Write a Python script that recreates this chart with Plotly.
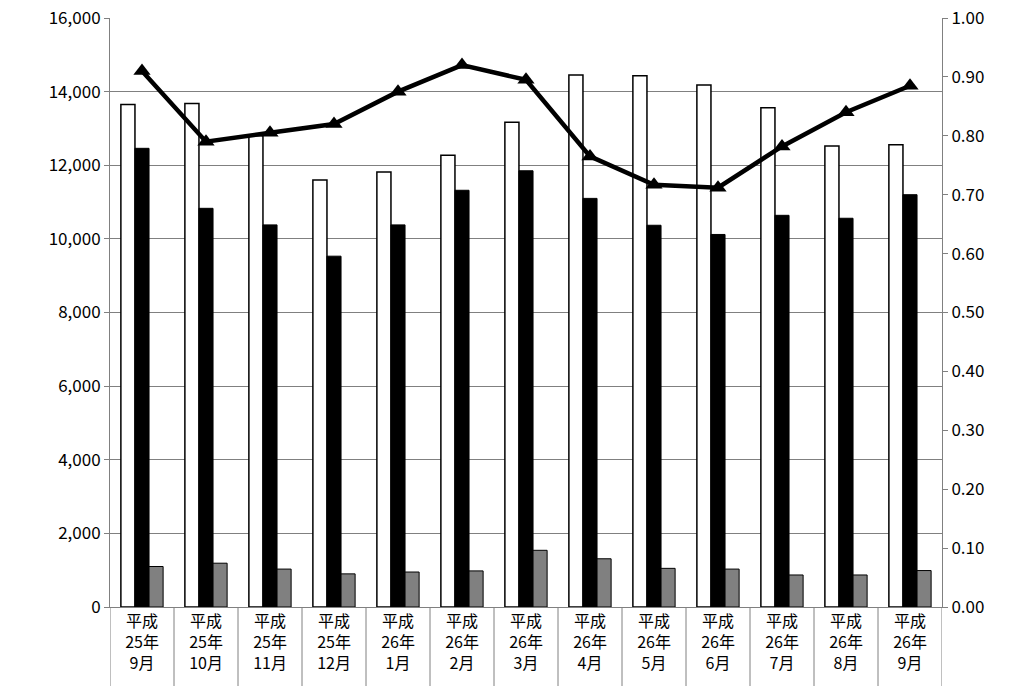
import plotly.graph_objects as go

categories = ["平成<br>25年<br>9月", "平成<br>25年<br>10月", "平成<br>25年<br>11月", "平成<br>25年<br>12月",
              "平成<br>26年<br>1月", "平成<br>26年<br>2月", "平成<br>26年<br>3月", "平成<br>26年<br>4月",
              "平成<br>26年<br>5月", "平成<br>26年<br>6月", "平成<br>26年<br>7月", "平成<br>26年<br>8月",
              "平成<br>26年<br>9月"]
white_vals = [13650, 13680, 12800, 11600, 11820, 12270, 13170, 14450, 14430, 14180, 13560, 12520, 12560]
black_vals = [12460, 10830, 10380, 9530, 10380, 11320, 11850, 11100, 10370, 10120, 10640, 10560, 11200]
gray_vals = [1100, 1190, 1030, 900, 950, 980, 1540, 1310, 1050, 1030, 870, 870, 990]
ratio_vals = [0.91, 0.79, 0.805, 0.82, 0.875, 0.92, 0.895, 0.765, 0.717, 0.712, 0.782, 0.84, 0.885]

x = list(range(len(categories)))
fig = go.Figure()
fig.add_trace(go.Bar(x=x, y=white_vals, marker=dict(color="white", line=dict(color="black", width=1.5))))
fig.add_trace(go.Bar(x=x, y=black_vals, marker=dict(color="black", line=dict(color="black", width=1))))
fig.add_trace(go.Bar(x=x, y=gray_vals, marker=dict(color="#808080", line=dict(color="black", width=1))))
fig.add_trace(go.Scatter(x=x, y=ratio_vals, yaxis="y2", mode="lines+markers",
                         line=dict(color="black", width=4.5),
                         marker=dict(symbol="triangle-up", size=15, color="black")))

# category boxes under the axis
for k in range(len(categories) + 1):
    fig.add_shape(type="line", xref="x", yref="paper", x0=k - 0.5, x1=k - 0.5, y0=-0.2, y1=0,
                  line=dict(color="#808080", width=1))

font = dict(family="Noto Sans CJK JP, Noto Sans", size=17, color="black")
fig.update_layout(
    width=1026, height=686, showlegend=False,
    plot_bgcolor="white", paper_bgcolor="white",
    margin=dict(l=102, r=92, t=10, b=87, autoexpand=False),
    barmode="group", bargap=0.34, bargroupgap=0,
    font=font,
    xaxis=dict(tickvals=x, ticktext=categories, range=[-0.5, len(categories) - 0.5], automargin=False,
               showline=True, linecolor="#808080", ticks="", tickfont=dict(size=16),
               ticklabeloverflow="allow"),
    yaxis=dict(range=[0, 16000], dtick=2000, tickformat=",", showgrid=True, gridcolor="#808080",
               showline=True, linecolor="#808080", ticks="outside", ticklen=5, tickcolor="#808080",
               zeroline=False, automargin=False, ticklabeloverflow="allow"),
    yaxis2=dict(range=[0, 1.0], dtick=0.1, tickformat=".2f", overlaying="y", side="right",
                showgrid=False, showline=True, linecolor="#808080", ticks="outside", ticklen=5,
                tickcolor="#808080", zeroline=False, automargin=False, ticklabeloverflow="allow"),
)
fig.write_html("out.html")
